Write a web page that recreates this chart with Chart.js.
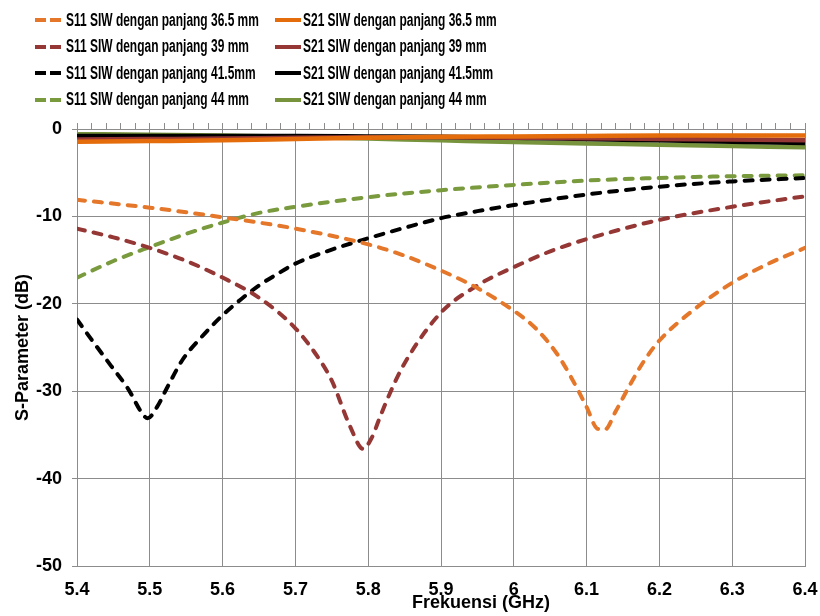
<!DOCTYPE html>
<html>
<head>
<meta charset="utf-8">
<script src="https://cdn.jsdelivr.net/npm/chart.js@4.4.1/dist/chart.umd.min.js"></script>
<style>
  body { margin: 0; background: #fff; }
  #wrap { position: relative; width: 820px; height: 616px; }
  #chart { position: absolute; left: 0; top: 0; }
  .item { position: absolute; height: 26px; display: flex; align-items: center; }
  .mark { width: 26px; height: 4px; }
  .txt { position: absolute; white-space: nowrap; color: #000;
         font: bold 18px "Liberation Sans", Arial, sans-serif;
         transform: scaleX(0.665); transform-origin: left center; }
</style>
</head>
<body>
<div id="wrap">
  <canvas id="chart" width="820" height="616"></canvas>
  <div id="legend"></div>
</div>
<script>
// frequency axis (GHz)
const xTicks = [5.4, 5.5, 5.6, 5.7, 5.8, 5.9, 6.0, 6.1, 6.2, 6.3, 6.4];
const xTickLabels = ['5.4', '5.5', '5.6', '5.7', '5.8', '5.9', '6', '6.1', '6.2', '6.3', '6.4'];
const yTicks = [-50, -40, -30, -20, -10, 0];
const yTickLabels = ['-50', '-40', '-30', '-20', '-10', '0'];
const xTitle = 'Frekuensi (GHz)';
const yTitle = 'S-Parameter (dB)';

// S11, 36.5 mm
const f_s11_365 = [5.4, 5.5, 5.6, 5.7, 5.8, 5.85, 5.9, 5.95, 6.0, 6.03, 6.06, 6.08, 6.1, 6.115, 6.125, 6.14, 6.16, 6.18, 6.2, 6.25, 6.3, 6.35, 6.4];
const s11_365 = [-8.1, -9.0, -10.1, -11.4, -13.2, -14.5, -16.2, -18.2, -20.8, -22.8, -25.8, -28.6, -31.8, -34.3, -34.4, -32.3, -29.2, -26.4, -24.2, -20.5, -17.6, -15.4, -13.6];

// S11, 39 mm
const f_s11_39 = [5.4, 5.45, 5.5, 5.55, 5.6, 5.65, 5.7, 5.73, 5.75, 5.775, 5.793, 5.805, 5.816, 5.83, 5.85, 5.9, 5.95, 6.0, 6.05, 6.1, 6.2, 6.3, 6.4];
const s11_39 = [-11.4, -12.4, -13.6, -15.1, -17.0, -19.3, -22.8, -26.0, -28.8, -34.0, -36.6, -35.3, -33.0, -30.2, -26.8, -21.0, -17.9, -15.8, -14.0, -12.6, -10.4, -8.9, -7.7];

// S11, 41.5 mm
const f_s11_415 = [5.4, 5.42, 5.445, 5.47, 5.49, 5.497, 5.51, 5.525, 5.545, 5.57, 5.6, 5.625, 5.65, 5.675, 5.7, 5.75, 5.8, 5.85, 5.9, 5.95, 6.0, 6.1, 6.2, 6.3, 6.4];
const s11_415 = [-21.8, -24.1, -26.9, -29.7, -32.6, -33.1, -31.8, -29.4, -26.4, -23.9, -21.3, -19.5, -17.9, -16.6, -15.4, -13.8, -12.5, -11.3, -10.2, -9.4, -8.7, -7.5, -6.6, -6.0, -5.6];

// S11, 44 mm
const f_s11_44 = [5.4, 5.45, 5.5, 5.55, 5.6, 5.65, 5.7, 5.8, 5.9, 6.0, 6.1, 6.2, 6.3, 6.4];
const s11_44 = [-17.0, -15.1, -13.5, -12.0, -10.7, -9.6, -8.9, -7.8, -7.0, -6.4, -5.9, -5.6, -5.4, -5.3];

// S21 (all lengths)
const f_s21 = [5.4, 5.5, 5.6, 5.7, 5.8, 5.9, 6.0, 6.1, 6.2, 6.3, 6.4];
const s21_365 = [-1.45, -1.38, -1.3, -1.15, -1.0, -0.9, -0.85, -0.8, -0.75, -0.75, -0.75];
const s21_39 = [-1.2, -1.15, -1.1, -1.0, -0.95, -0.95, -1.0, -1.05, -1.15, -1.2, -1.3];
const s21_415 = [-0.8, -0.8, -0.8, -0.8, -0.85, -0.9, -1.0, -1.15, -1.3, -1.45, -1.6];
const s21_44 = [-0.6, -0.65, -0.75, -0.9, -1.1, -1.3, -1.5, -1.65, -1.8, -1.95, -2.1];

const series = [
  { label: 'S11 SIW dengan panjang 36.5 mm', f: f_s11_365, v: s11_365, color: '#E5772A', dashed: true },
  { label: 'S21 SIW dengan panjang 36.5 mm', f: f_s21, v: s21_365, color: '#E46C0A', dashed: false },
  { label: 'S11 SIW dengan panjang 39 mm', f: f_s11_39, v: s11_39, color: '#953735', dashed: true },
  { label: 'S21 SIW dengan panjang 39 mm', f: f_s21, v: s21_39, color: '#953735', dashed: false },
  { label: 'S11 SIW dengan panjang 41.5mm', f: f_s11_415, v: s11_415, color: '#000000', dashed: true },
  { label: 'S21 SIW dengan panjang 41.5mm', f: f_s21, v: s21_415, color: '#000000', dashed: false },
  { label: 'S11 SIW dengan panjang 44 mm', f: f_s11_44, v: s11_44, color: '#7A9A3E', dashed: true },
  { label: 'S21 SIW dengan panjang 44 mm', f: f_s21, v: s21_44, color: '#77933C', dashed: false }
];

// legend, 2 columns x 4 rows
const legend = document.getElementById('legend');
series.forEach((s, i) => {
  const col = i % 2, row = Math.floor(i / 2);
  const mark = document.createElement('div');
  mark.className = 'item';
  mark.style.left = (col ? 275 : 35) + 'px';
  mark.style.top = (7 + row * 26.6) + 'px';
  const m = document.createElement('div');
  m.className = 'mark';
  m.style.background = s.dashed
    ? `repeating-linear-gradient(to right, ${s.color} 0 11px, transparent 11px 15px)`
    : s.color;
  mark.appendChild(m);
  legend.appendChild(mark);
  const t = document.createElement('div');
  t.className = 'item txt';
  t.style.left = (col ? 303 : 66) + 'px';
  t.style.top = (7 + row * 26.6) + 'px';
  t.textContent = s.label;
  legend.appendChild(t);
});

const gridColor = '#8c8c8c';
const tickFont = { family: '"Liberation Sans", Arial, sans-serif', size: 18, weight: 'bold' };

// small tick marks along the top edge every 0.02 GHz
const minorTicks = [];
for (let i = 0; i <= 50; i++) minorTicks.push({ value: 5.4 + i * 0.02 });

const xTitlePlugin = {
  id: 'xTitle',
  afterDraw(chart) {
    const { ctx, scales: { x } } = chart;
    ctx.save();
    ctx.font = 'bold 18px "Liberation Sans", Arial, sans-serif';
    ctx.fillStyle = '#000';
    ctx.textAlign = 'center';
    ctx.textBaseline = 'middle';
    ctx.fillText(xTitle, x.getPixelForValue(5.955), 603);
    ctx.restore();
  }
};

new Chart(document.getElementById('chart'), {
  type: 'line',
  data: {
    datasets: series.map(s => ({
      label: s.label,
      data: s.f.map((x, i) => ({ x: x, y: s.v[i] })),
      borderColor: s.color,
      backgroundColor: s.color,
      borderWidth: s.dashed ? 4 : 4.5,
      borderDash: s.dashed ? [8, 9] : [],
      borderCapStyle: s.dashed ? 'round' : 'butt',
      cubicInterpolationMode: 'monotone',
      pointRadius: 0,
      fill: false
    }))
  },
  options: {
    responsive: false,
    animation: false,
    layout: { padding: { top: 123, right: 15, left: 0, bottom: 0 } },
    plugins: { legend: { display: false }, tooltip: { enabled: false } },
    scales: {
      x: {
        type: 'linear', min: 5.4, max: 6.4,
        afterBuildTicks: s => { s.ticks = xTicks.map(v => ({ value: v })); },
        afterFit: s => { s.height = 50; s.paddingLeft = 0; s.paddingRight = 0; },
        ticks: { autoSkip: false, maxRotation: 0, font: tickFont, color: '#000', padding: 13,
                 callback: (v, i) => xTickLabels[i] },
        grid: { color: gridColor, drawTicks: false },
        border: { color: gridColor }
      },
      x2: {
        type: 'linear', position: 'top', min: 5.4, max: 6.4,
        afterBuildTicks: s => { s.ticks = minorTicks.slice(); },
        afterFit: s => { s.height = 6; s.paddingLeft = 0; s.paddingRight = 0; },
        ticks: { display: true, autoSkip: false, maxRotation: 0, color: 'rgba(0,0,0,0)',
                 font: { size: 1 }, padding: 0, callback: () => '' },
        grid: { drawOnChartArea: false, drawTicks: true, tickLength: 6, tickWidth: 1, color: gridColor },
        border: { display: true, color: gridColor }
      },
      y: {
        min: -50, max: 0,
        afterBuildTicks: s => { s.ticks = yTicks.map(v => ({ value: v })); },
        afterFit: s => { s.width = 77; },
        ticks: { font: tickFont, color: '#000', padding: 10, callback: (v, i) => yTickLabels[i] },
        grid: { color: gridColor, tickLength: 5 },
        border: { color: gridColor },
        title: { display: true, text: yTitle, color: '#000', font: tickFont, padding: { top: 12, bottom: 0 } }
      }
    }
  },
  plugins: [xTitlePlugin]
});
</script>
</body>
</html>
